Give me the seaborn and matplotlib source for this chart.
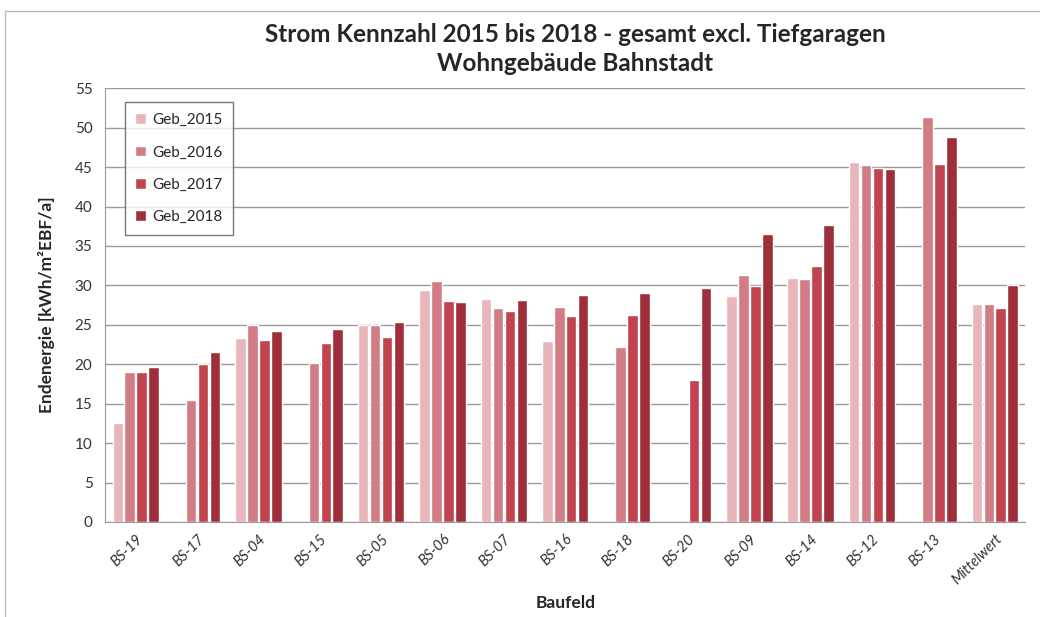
import numpy as np
import pandas as pd
import matplotlib
matplotlib.use('Agg')
import matplotlib.pyplot as plt
import seaborn as sns

# Baufelder and yearly electricity figures (kWh/m2 EBF/a), NaN = no data
baufeld = ["BS-19", "BS-17", "BS-04", "BS-15", "BS-05", "BS-06", "BS-07", "BS-16",
           "BS-18", "BS-20", "BS-09", "BS-14", "BS-12", "BS-13", "Mittelwert"]
geb_2015 = [12.5, np.nan, 23.3, np.nan, 25.0, 29.4, 28.3, 23.0,
            np.nan, np.nan, 28.6, 31.0, 45.6, np.nan, 27.6]
geb_2016 = [19.0, 15.5, 25.0, 20.1, 25.0, 30.6, 27.1, 27.3,
            22.2, np.nan, 31.3, 30.8, 45.3, 51.4, 27.6]
geb_2017 = [19.0, 20.0, 23.1, 22.7, 23.5, 28.0, 26.8, 26.1,
            26.3, 18.0, 29.9, 32.4, 44.9, 45.4, 27.1]
geb_2018 = [19.7, 21.5, 24.2, 24.5, 25.4, 27.9, 28.2, 28.8,
            29.0, 29.7, 36.5, 37.7, 44.8, 48.8, 30.0]
series = ["Geb_2015", "Geb_2016", "Geb_2017", "Geb_2018"]
colors = ["#e8b6ba", "#d27c86", "#c0434e", "#9e2f3a"]

df = pd.DataFrame({"Baufeld": baufeld, "Geb_2015": geb_2015, "Geb_2016": geb_2016,
                   "Geb_2017": geb_2017, "Geb_2018": geb_2018})
long_df = df.melt(id_vars="Baufeld", var_name="Serie", value_name="Wert")

sns.set_style("white")
plt.rcParams['font.family'] = ['Lato', 'DejaVu Sans']

fig = plt.figure(figsize=(10.4, 6.17), dpi=100)
ax = fig.add_axes([0.101, 0.154, 0.885, 0.703])

sns.barplot(data=long_df, x="Baufeld", y="Wert", hue="Serie", order=baufeld,
            hue_order=series, palette=colors, width=0.78, gap=0.12,
            saturation=1, ax=ax, errorbar=None)

ax.set_ylim(0, 55)
ax.set_yticks(range(0, 56, 5))
ax.set_xlim(-0.5, len(baufeld) - 0.5)
ax.yaxis.grid(True, color="#9a9a9a", linewidth=1)
ax.set_axisbelow(True)
for side in ["top", "right"]:
    ax.spines[side].set_visible(False)
ax.spines["left"].set_color("#9a9a9a")
ax.spines["bottom"].set_color("#9a9a9a")

# Excel style: x ticks between categories
ax.set_xticks(np.arange(len(baufeld)))
ax.set_xticklabels(baufeld, rotation=45, ha="right", rotation_mode="anchor",
                   fontsize=10.5, color="#333333", style="italic")
ax.set_xticks(np.arange(-0.5, len(baufeld)), minor=True)
ax.tick_params(axis="x", which="major", length=0, pad=7)
ax.tick_params(axis="x", which="minor", length=5, color="#9a9a9a", direction="out")
ax.tick_params(axis="y", length=0, labelsize=11, labelcolor="#333333", pad=9)

ax.set_xlabel("Baufeld", fontsize=12.5, fontweight="bold", labelpad=0)
ax.xaxis.set_label_coords(0.5, -0.168)
ax.set_ylabel("Endenergie [kWh/m²EBF/a]", fontsize=12.5, fontweight="bold", labelpad=14)

fig.suptitle("Strom Kennzahl 2015 bis 2018 - gesamt excl. Tiefgaragen\nWohngebäude Bahnstadt",
             x=0.553, y=0.962, fontsize=17.5, fontweight="bold", linespacing=1.3)

leg = ax.legend(loc="upper left", bbox_to_anchor=(0.013, 0.985), frameon=True,
                fontsize=11, labelspacing=1.2, handlelength=0.7, handleheight=0.7,
                handletextpad=0.4, borderpad=0.7, fancybox=False, title=None)
leg.get_frame().set_edgecolor("#555555")
leg.get_frame().set_linewidth(1)

# outer chart frame
fig.patches.append(matplotlib.patches.Rectangle((0.005, -0.05), 1.2, 1.032,
                   transform=fig.transFigure, fill=False, edgecolor="#bbbbbb", linewidth=1))

fig.savefig("out.png", dpi=100)
